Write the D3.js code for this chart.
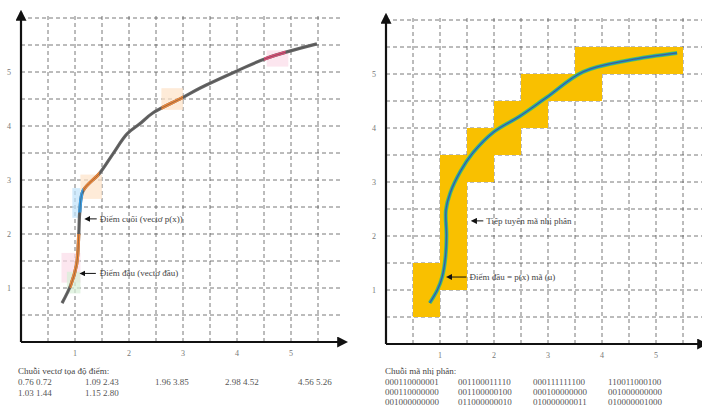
<!DOCTYPE html>
<html lang="vi">
<head>
<meta charset="utf-8">
<title>Vectơ và mã nhị phân</title>
<script src="https://cdn.jsdelivr.net/npm/d3@7"></script>
<style>
body { margin: 0; background: #fff; }
svg { display: block; font-family: "Liberation Serif", "DejaVu Serif", serif; }
</style>
</head>
<body>
<script>
// values
var tickVals = [1, 2, 3, 4, 5];
var gridVals = [0.5, 1, 1.5, 2, 2.5, 3, 3.5, 4, 4.5, 5, 5.5, 6];

var leftX = [0.76, 0.92, 1.03, 1.07, 1.09, 1.15, 1.46, 1.70, 1.96, 2.2, 2.44, 2.98, 3.31, 4.0, 4.56, 5.48];
var leftY = [0.72, 1.05, 1.44, 2.0, 2.43, 2.8, 3.13, 3.48, 3.85, 4.04, 4.24, 4.52, 4.70, 5.02, 5.26, 5.52];

var rightX = [0.81, 0.95, 1.04, 1.10, 1.12, 1.11, 1.19, 1.38, 1.61, 2.0, 2.48, 2.98, 3.65, 4.52, 5.39];
var rightY = [0.76, 1.0, 1.24, 1.6, 2.0, 2.48, 2.8, 3.2, 3.54, 3.93, 4.22, 4.57, 5.04, 5.26, 5.39];

// coloured parts of the left curve: [x0, x1, y0, y1, colour]
var highlights = [
  [0.9, 1.15, 1.0, 2.0, "#f08a3c"],
  [0.9, 1.15, 2.4, 2.9, "#3aa0e8"],
  [1.15, 1.45, 2.8, 3.2, "#f08a3c"],
  [2.6, 3.0, 4.3, 4.7, "#f08a3c"],
  [4.5, 4.9, 5.1, 5.4, "#e0507a"]
];
var tiles = [
  [0.95, 1.1, 2.3, 2.85, "#bfe3fb"],
  [1.1, 1.5, 2.65, 3.1, "#fde3c8"],
  [2.6, 3.0, 4.3, 4.7, "#fde3c8"],
  [4.55, 4.95, 5.1, 5.4, "#fbdbe8"],
  [0.75, 1.1, 1.1, 1.65, "#fbdbe8"],
  [0.85, 1.1, 0.9, 1.3, "#d7efd7"]
];

// gold cells on the right: [x0, x1, y0, y1]
var cells = [
  [0.5, 1.0, 0.5, 1.5],
  [1.0, 1.5, 1.0, 3.5],
  [1.0, 2.0, 3.0, 3.5],
  [1.5, 2.5, 3.5, 4.0],
  [2.0, 3.0, 4.0, 4.5],
  [2.5, 4.0, 4.5, 5.0],
  [3.5, 5.5, 5.0, 5.5]
];

var leftTitle = "Chuỗi vectơ tọa độ điểm:";
var leftRows = [
  ["0.76 0.72", "1.09 2.43", "1.96 3.85", "2.98 4.52", "4.56 5.26"],
  ["1.03 1.44", "1.15 2.80"]
];
var rightTitle = "Chuỗi mã nhị phân:";
var rightRows = [
  ["000110000001", "001100011110", "000111111100", "110011000100"],
  ["000110000000", "001100000100", "000100000000", "001000000000"],
  ["001000000000", "011000000010", "010000000011", "010000001000"]
];

var labelsLeft = ["Điểm cuối (vectơ p(x))", "Điểm đầu (vectơ đầu)"];
var labelsRight = ["Tiếp tuyến mã nhị phân", "Điểm đầu = p(x) mã (u)"];

var w = 702, h = 412, unit = 54;

var svg = d3.select("body").append("svg")
  .attr("width", w)
  .attr("height", h);

var defs = svg.append("defs");
defs.append("marker")
  .attr("id", "head")
  .attr("viewBox", "0 0 10 10")
  .attr("refX", 8).attr("refY", 5)
  .attr("markerWidth", 5).attr("markerHeight", 5)
  .attr("orient", "auto")
  .append("path").attr("d", "M0,0L10,5L0,10z").attr("fill", "#111");
defs.append("marker")
  .attr("id", "small")
  .attr("viewBox", "0 0 10 10")
  .attr("refX", 1).attr("refY", 5)
  .attr("markerWidth", 6).attr("markerHeight", 6)
  .attr("orient", "auto-start-reverse")
  .append("path").attr("d", "M0,0L10,5L0,10z").attr("fill", "#111");

function panel(ox, oy, right, top) {
  var xs = d3.scaleLinear().domain([0, (right - ox) / unit]).range([ox, right]);
  var ys = d3.scaleLinear().domain([0, (oy - top) / unit]).range([oy, top]);
  var g = svg.append("g");

  // grid
  g.selectAll(".gx").data(gridVals.filter(function(v) { return xs(v) < right; }))
    .enter().append("line")
    .attr("x1", function(d) { return xs(d); }).attr("x2", function(d) { return xs(d); })
    .attr("y1", oy).attr("y2", top)
    .attr("stroke", "#555").attr("stroke-width", 0.8).attr("stroke-dasharray", "4,3");
  g.selectAll(".gy").data(gridVals.filter(function(v) { return ys(v) > top; }))
    .enter().append("line")
    .attr("y1", function(d) { return ys(d); }).attr("y2", function(d) { return ys(d); })
    .attr("x1", ox).attr("x2", right)
    .attr("stroke", "#555").attr("stroke-width", 0.8).attr("stroke-dasharray", "4,3");

  // tick labels
  g.selectAll(".tx").data(tickVals).enter().append("text")
    .attr("x", function(d) { return xs(d); }).attr("y", oy + 14)
    .attr("text-anchor", "middle").attr("font-size", 8).attr("fill", "#777")
    .text(function(d) { return d; });
  g.selectAll(".ty").data(tickVals).enter().append("text")
    .attr("x", ox - 12).attr("y", function(d) { return ys(d) + 3; })
    .attr("text-anchor", "middle").attr("font-size", 8).attr("fill", "#777")
    .text(function(d) { return d; });

  return { g: g, xs: xs, ys: ys, ox: ox, oy: oy, right: right, top: top };
}

function axes(p, xEnd) {
  p.g.append("line").attr("x1", p.ox).attr("y1", p.oy).attr("x2", p.ox).attr("y2", p.top - 3)
    .attr("stroke", "#111").attr("stroke-width", 2.2).attr("marker-end", "url(#head)");
  p.g.append("line").attr("x1", p.ox).attr("y1", p.oy).attr("x2", xEnd).attr("y2", p.oy)
    .attr("stroke", "#111").attr("stroke-width", 2.2).attr("marker-end", "url(#head)");
}

function note(p, tip, len, tx, label) {
  var x = p.xs(tip[0]), y = p.ys(tip[1]);
  p.g.append("line").attr("x1", x + len).attr("y1", y).attr("x2", x + 5).attr("y2", y)
    .attr("stroke", "#111").attr("stroke-width", 1).attr("marker-end", "url(#small)");
  p.g.append("text").attr("x", x + len + tx).attr("y", y + 3)
    .attr("font-size", 9).attr("fill", "#444").text(label);
}

// ---------- left panel ----------
var L = panel(21, 342, 343, 15);
var leftPts = leftX.map(function(d, i) { return [d, leftY[i]]; });
var lineL = d3.line().x(function(d) { return L.xs(d[0]); }).y(function(d) { return L.ys(d[1]); })
  .curve(d3.curveCatmullRom);

L.g.selectAll(".tile").data(tiles).enter().append("rect")
  .attr("x", function(d) { return L.xs(d[0]); })
  .attr("y", function(d) { return L.ys(d[3]); })
  .attr("width", function(d) { return L.xs(d[1]) - L.xs(d[0]); })
  .attr("height", function(d) { return L.ys(d[2]) - L.ys(d[3]); })
  .attr("fill", function(d) { return d[4]; }).attr("opacity", 0.7);

L.g.append("path").datum(leftPts).attr("d", lineL)
  .attr("fill", "none").attr("stroke", "#666").attr("stroke-width", 3.2);

highlights.forEach(function(hl, i) {
  defs.append("clipPath").attr("id", "hl" + i).append("rect")
    .attr("x", L.xs(hl[0])).attr("y", L.ys(hl[3]))
    .attr("width", L.xs(hl[1]) - L.xs(hl[0])).attr("height", L.ys(hl[2]) - L.ys(hl[3]));
  L.g.append("path").datum(leftPts).attr("d", lineL)
    .attr("clip-path", "url(#hl" + i + ")")
    .attr("fill", "none").attr("stroke", hl[4]).attr("stroke-width", 3.2);
});
L.g.append("path").datum(leftPts).attr("d", lineL)
  .attr("fill", "none").attr("stroke", "#444").attr("stroke-width", 0.8).attr("opacity", 0.6);

axes(L, 346);
note(L, [1.18, 2.28], 12, 3, labelsLeft[0]);
note(L, [1.09, 1.27], 16, 4, labelsLeft[1]);

// ---------- right panel ----------
var R = panel(386, 344, 702, 18);
var rightPts = rightX.map(function(d, i) { return [d, rightY[i]]; });
var lineR = d3.line().x(function(d) { return R.xs(d[0]); }).y(function(d) { return R.ys(d[1]); })
  .curve(d3.curveCatmullRom);

R.g.selectAll(".cell").data(cells).enter().append("rect")
  .attr("x", function(d) { return R.xs(d[0]); })
  .attr("y", function(d) { return R.ys(d[3]); })
  .attr("width", function(d) { return R.xs(d[1]) - R.xs(d[0]); })
  .attr("height", function(d) { return R.ys(d[2]) - R.ys(d[3]); })
  .attr("fill", "#f9c000");

R.g.append("path").datum(rightPts).attr("d", lineR)
  .attr("fill", "none").attr("stroke", "#5cc84a").attr("stroke-width", 4);
R.g.append("path").datum(rightPts).attr("d", lineR)
  .attr("fill", "none").attr("stroke", "#1e88d8").attr("stroke-width", 2.4);
R.g.append("path").datum(rightPts).attr("d", lineR)
  .attr("fill", "none").attr("stroke", "#555").attr("stroke-width", 1).attr("opacity", 0.7);

axes(R, 706);
note(R, [1.58, 2.28], 12, 3, labelsRight[0]);
note(R, [1.12, 1.24], 20, 3, labelsRight[1]);

// ---------- text under the charts ----------
svg.append("text").attr("x", 18).attr("y", 374).attr("font-size", 9).attr("fill", "#444").text(leftTitle);
var leftCols = [18, 85, 155, 225, 298];
leftRows.forEach(function(row, r) {
  svg.selectAll(null).data(row).enter().append("text")
    .attr("x", function(d, i) { return leftCols[i]; })
    .attr("y", 385 + r * 11)
    .attr("font-size", 9).attr("fill", "#555")
    .text(function(d) { return d; });
});

svg.append("text").attr("x", 385).attr("y", 374).attr("font-size", 9).attr("fill", "#444").text(rightTitle);
var rightCols = [385, 458, 533, 608];
rightRows.forEach(function(row, r) {
  svg.selectAll(null).data(row).enter().append("text")
    .attr("x", function(d, i) { return rightCols[i]; })
    .attr("y", 385 + r * 10)
    .attr("font-size", 9).attr("fill", "#555")
    .text(function(d) { return d; });
});
</script>
</body>
</html>
